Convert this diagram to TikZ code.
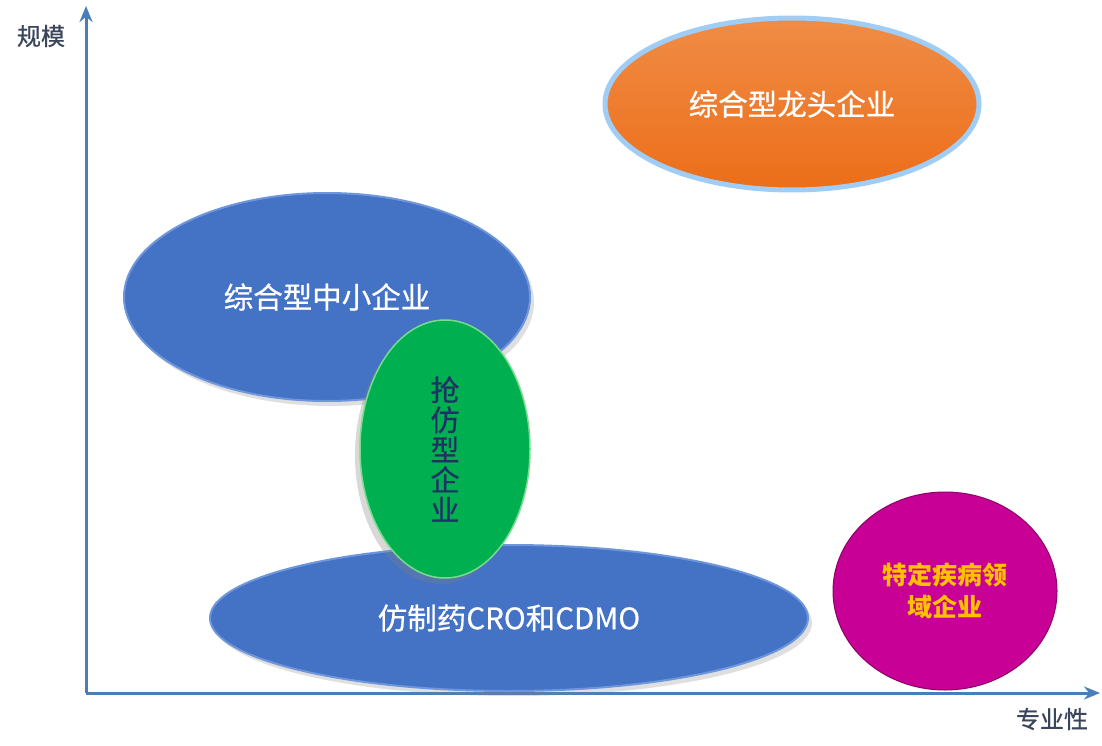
\documentclass[tikz,border=0pt]{standalone}
\usepackage{fontspec}
\setmainfont{Noto Sans CJK SC}
\newfontfamily\medfont[FakeBold=0.7]{Noto Sans CJK SC}
\usetikzlibrary{shapes.geometric,arrows.meta,shadows}
\definecolor{axisblue}{RGB}{74,126,187}
\definecolor{ellblue}{RGB}{68,114,196}
\definecolor{rimblue}{RGB}{110,150,220}
\definecolor{orangeA}{RGB}{240,140,70}
\definecolor{orangeB}{RGB}{236,110,25}
\definecolor{glow}{RGB}{160,205,245}
\definecolor{greenE}{RGB}{0,176,80}
\definecolor{greenRim}{RGB}{120,220,140}
\definecolor{navy}{RGB}{31,50,100}
\definecolor{magentaE}{RGB}{200,0,150}
\definecolor{goldT}{RGB}{255,192,0}
\definecolor{labelgray}{RGB}{60,70,90}
\tikzset{
  ell/.style={ellipse, inner sep=0pt, align=center},
  blueell/.style={ell, fill=ellblue, draw=rimblue, line width=2pt,
    drop shadow={shadow xshift=4pt, shadow yshift=-5pt, opacity=0.25}},
  axis/.style={draw=axisblue, line width=3pt, -{Stealth[length=16pt,width=13pt]}},
  axlabel/.style={text=labelgray, font=\medfont\fontsize{24}{28}\selectfont},
  big/.style={font=\medfont\fontsize{29.5}{32}\selectfont}
}
\begin{document}
\begin{tikzpicture}[x=1pt,y=-1pt]
\useasboundingbox (0,0) rectangle (1102,746);
\fill[white] (0,0) rectangle (1102,746);
% axes
\coordinate (O) at (86,693);
\coordinate (ytop) at (86,6);
\coordinate (xend) at (1100,693);
\draw[axis] (O) -- (ytop);
\draw[axis] (O) -- (xend);
\node[axlabel] (ylab) at (41,36) {规模};
\node[axlabel] (xlab) at (1052,719) {专业性};
% orange leader
\node[ell, minimum width=374pt, minimum height=172pt, draw=glow, line width=5pt,
  top color=orangeA, bottom color=orangeB, text=white, big] (lead) at (792,104) {综合型龙头企业};
% small/medium integrated
\node[blueell, minimum width=406pt, minimum height=208pt, text=white, big] (sme) at (327,297) {综合型中小企业};
% CRO/CDMO
\node[blueell, minimum width=598pt, minimum height=146pt, text=white, big] (cro) at (509,618) {仿制药CRO和CDMO};
% generic first-to-file
\node[ell, minimum width=170pt, minimum height=258pt, fill=greenE, draw=greenRim, line width=1.5pt,
  drop shadow={shadow xshift=-5pt, shadow yshift=-6pt, opacity=0.3},
  text=navy, font=\medfont\fontsize{29}{30}\selectfont] (ftf) at (445,449) {抢\\仿\\型\\企\\业};
% specialty
\node[ell, minimum width=224pt, minimum height=198pt, fill=magentaE, draw=magentaE!70!black, line width=1pt,
  text=goldT, font=\bfseries\fontsize{25}{32}\selectfont] (spec) at (945,591) {特定疾病领\\域企业};
\end{tikzpicture}
\end{document}
